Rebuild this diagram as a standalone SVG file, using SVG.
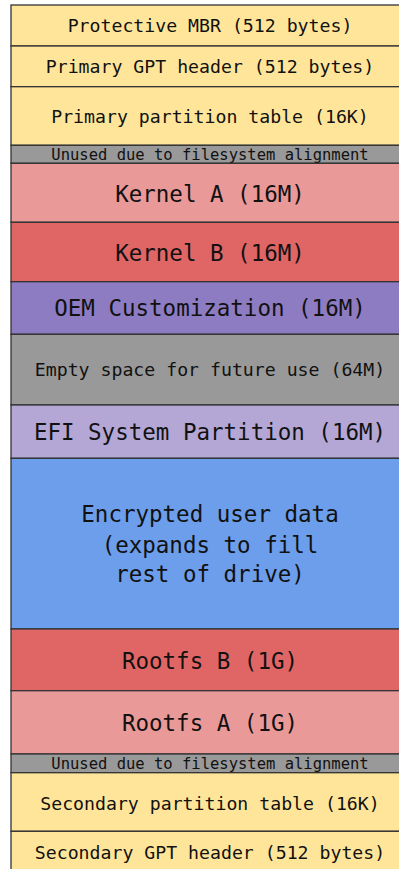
<svg xmlns="http://www.w3.org/2000/svg" width="399" height="869" viewBox="0 0 399 869">
  <style>
    .blk { stroke: #333333; stroke-width: 1.3; }
    .gpt { fill: #ffe599; }
    .gap { fill: #999999; }
    .ka { fill: #ea9999; }
    .kb { fill: #e06666; }
    .oem { fill: #8e7cc3; }
    .efi { fill: #b4a7d6; }
    .usr { fill: #6d9eeb; }
    text { font-family: "DejaVu Sans Mono", "Liberation Mono", monospace; fill: #111111; text-anchor: middle; }
    .m { font-size: 18.2px; }
    .l { font-size: 22.5px; }
    .s { font-size: 15.5px; }
  </style>
  <rect width="399" height="869" fill="#ffffff"/>
  <g id="protective-mbr">
    <rect class="blk gpt" x="11" y="5" width="400" height="41"/>
    <text class="m" x="210" y="32.2">Protective MBR (512 bytes)</text>
  </g>
  <g id="primary-gpt-header">
    <rect class="blk gpt" x="11" y="46" width="400" height="40.7"/>
    <text class="m" x="210" y="73">Primary GPT header (512 bytes)</text>
  </g>
  <g id="primary-partition-table">
    <rect class="blk gpt" x="11" y="86.7" width="400" height="58.6"/>
    <text class="m" x="210" y="122.6">Primary partition table (16K)</text>
  </g>
  <g id="unused-1">
    <rect class="blk gap" x="11" y="145.3" width="400" height="18"/>
    <text class="s" x="210" y="160.2">Unused due to filesystem alignment</text>
  </g>
  <g id="kernel-a">
    <rect class="blk ka" x="11" y="163.3" width="400" height="59"/>
    <text class="l" x="210" y="201.6">Kernel A (16M)</text>
  </g>
  <g id="kernel-b">
    <rect class="blk kb" x="11" y="222.3" width="400" height="59.4"/>
    <text class="l" x="210" y="260.5">Kernel B (16M)</text>
  </g>
  <g id="oem-customization">
    <rect class="blk oem" x="11" y="281.7" width="400" height="52.6"/>
    <text class="l" x="210" y="316">OEM Customization (16M)</text>
  </g>
  <g id="empty-space">
    <rect class="blk gap" x="11" y="334.3" width="400" height="70.7"/>
    <text class="m" x="210" y="376.3">Empty space for future use (64M)</text>
  </g>
  <g id="efi-system-partition">
    <rect class="blk efi" x="11" y="405" width="400" height="53.3"/>
    <text class="l" x="210" y="439.8">EFI System Partition (16M)</text>
  </g>
  <g id="encrypted-user-data">
    <rect class="blk usr" x="11" y="458.3" width="400" height="170.7"/>
    <text class="l" x="210" y="522.3">Encrypted user data</text>
    <text class="l" x="210" y="552.5">(expands to fill</text>
    <text class="l" x="210" y="582">rest of drive)</text>
  </g>
  <g id="rootfs-b">
    <rect class="blk kb" x="11" y="629" width="400" height="61.7"/>
    <text class="l" x="210" y="669">Rootfs B (1G)</text>
  </g>
  <g id="rootfs-a">
    <rect class="blk ka" x="11" y="690.7" width="400" height="63.3"/>
    <text class="l" x="210" y="731">Rootfs A (1G)</text>
  </g>
  <g id="unused-2">
    <rect class="blk gap" x="11" y="754" width="400" height="18.7"/>
    <text class="s" x="210" y="769.2">Unused due to filesystem alignment</text>
  </g>
  <g id="secondary-partition-table">
    <rect class="blk gpt" x="11" y="772.7" width="400" height="58.6"/>
    <text class="m" x="210" y="810">Secondary partition table (16K)</text>
  </g>
  <g id="secondary-gpt-header">
    <rect class="blk gpt" x="11" y="831.3" width="400" height="45"/>
    <text class="m" x="210" y="858.5">Secondary GPT header (512 bytes)</text>
  </g>
</svg>
